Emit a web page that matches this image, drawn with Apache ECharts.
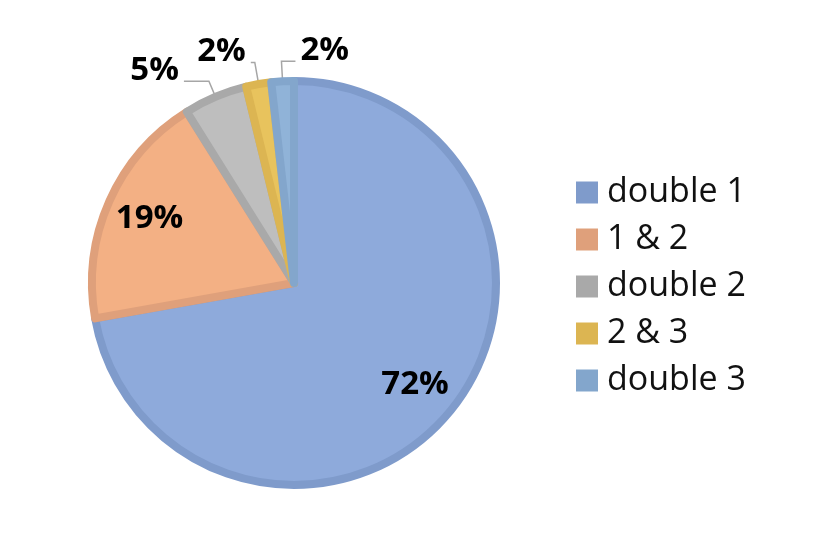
<!DOCTYPE html>
<html>
<head>
<meta charset="utf-8">
<style>
  html, body { margin: 0; padding: 0; background: #fff; }
  #chart { width: 831px; height: 558px; }
</style>
</head>
<body>
<div id="chart"></div>
<script src="https://cdn.jsdelivr.net/npm/echarts@6/dist/echarts.min.js"></script>
<script>
// 数据
var categories = ['double 1', '1 & 2', 'double 2', '2 & 3', 'double 3'];
var shares = [72.2, 18.9, 5.1, 2.0, 1.8];
var fillColors = ['#8eaadb', '#f3b084', '#bebebe', '#e8c35d', '#90b3d8'];
var edgeColors = ['#7f9bcb', '#dfa07b', '#a9a9a9', '#dcb552', '#83a6cc'];
// 小扇区的引导线长度
var lineLen = [0, 0, 17, 22, 20];
var lineLen2 = [0, 0, 25, 4, 14];

var center = [294, 283];

var pieData = categories.map(function (name, i) {
  var small = shares[i] < 10;
  return {
    name: name,
    value: shares[i],
    itemStyle: { color: fillColors[i], borderColor: edgeColors[i] },
    label: { show: small },
    labelLine: { show: small, length: lineLen[i], length2: lineLen2[i] }
  };
});

var innerData = categories.map(function (name, i) {
  return {
    name: name,
    value: shares[i],
    label: { show: shares[i] >= 10 }
  };
});

var labelFont = {
  fontFamily: 'Open Sans',
  fontWeight: 'bold',
  fontSize: 33,
  color: '#000'
};

var option = {
  animation: false,
  backgroundColor: '#fff',
  legend: {
    orient: 'vertical',
    left: 571,
    top: 170,
    itemWidth: 22,
    itemHeight: 22,
    itemGap: 12,
    icon: 'rect',
    selectedMode: false,
    textStyle: {
      fontFamily: 'Open Sans',
      fontSize: 34,
      lineHeight: 35,
      color: '#111',
      padding: [0, 0, 0, 4]
    },
    data: categories.map(function (name, i) {
      return { name: name, itemStyle: { color: edgeColors[i], borderWidth: 0 } };
    })
  },
  series: [{
    name: 'main',
    type: 'pie',
    center: center,
    radius: 202,
    startAngle: 90,
    clockwise: true,
    avoidLabelOverlap: false,
    percentPrecision: 0,
    silent: true,
    itemStyle: { borderWidth: 8 },
    label: Object.assign({
      position: 'outside',
      formatter: '{d}%',
      distanceToLabelLine: 5
    }, labelFont),
    labelLine: {
      lineStyle: { color: '#a6a6a6', width: 1.5 }
    },
    labelLayout: function (p) {
      if (!p.labelLinePoints) return;
      var pts = p.labelLinePoints;
      // 标签比引导线末端高一点
      if (p.dataIndex !== 4) {
        return { dy: -11, labelLinePoints: pts };
      }
      // 最后一个扇区标签放到右边
      var len2 = Math.abs(pts[1][0] - pts[2][0]);
      var endX = pts[1][0] + len2;
      return {
        x: endX + 5,
        y: pts[1][1] - 11,
        align: 'left',
        verticalAlign: 'middle',
        labelLinePoints: [pts[0], pts[1], [endX, pts[1][1]]]
      };
    },
    data: pieData
  }, {
    name: 'inner',
    type: 'pie',
    center: center,
    radius: [104, 206],
    startAngle: 90,
    clockwise: true,
    silent: true,
    percentPrecision: 0,
    itemStyle: { color: 'rgba(0,0,0,0)' },
    label: Object.assign({
      position: 'inside',
      formatter: '{d}%'
    }, labelFont),
    labelLine: { show: false },
    data: innerData
  }]
};

var mychart = echarts.init(document.getElementById('chart'), null, { renderer: 'canvas' });
mychart.setOption(option);
window.onresize = function () {
  mychart.resize();
};
</script>
</body>
</html>
